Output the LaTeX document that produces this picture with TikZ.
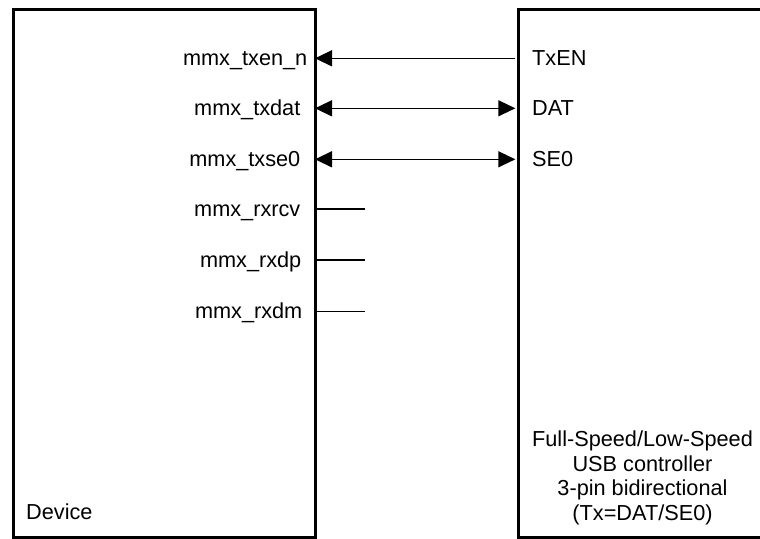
\documentclass[tikz,border=0pt]{standalone}
\usepackage{fontspec}
\setmainfont{Liberation Sans}
\usetikzlibrary{arrows.meta}
\begin{document}
\begin{tikzpicture}[x=1pt,y=-1pt,
  box/.style={draw=black,line width=3pt,fill=none,inner sep=0pt,anchor=north west},
  wire/.style={draw=black,line width=1.4pt},
  tip/.style={-{Triangle[length=17pt,width=16pt]}},
  both/.style={{Triangle[length=17pt,width=16pt]}-{Triangle[length=17pt,width=16pt]}},
  lbl/.style={font=\fontsize{21.7}{24.5}\selectfont,inner sep=0pt}]
\clip (0,0) rectangle (760,538);
% boxes
\node[box,minimum width=302.5pt,minimum height=528pt] (dev) at (11.5,7.5) {};
\node[box,minimum width=300pt,minimum height=528pt] (usb) at (516.7,7.5) {};
% port coordinates
\coordinate (d1) at (315,58.3);
\coordinate (d2) at (315,108.3);
\coordinate (d3) at (315,159.3);
\coordinate (d4) at (314,209);
\coordinate (d5) at (314,260);
\coordinate (d6) at (314,311.7);
\coordinate (s4) at (365,209);
\coordinate (s5) at (365,260);
\coordinate (s6) at (365,311.7);
\coordinate (u1) at (515.3,58.3);
\coordinate (u2) at (515.3,108.3);
\coordinate (u3) at (515.3,159.3);
% labels left
\node[lbl,anchor=base east] (l1) at (307.5,65.3) {mmx\_txen\_n};
\node[lbl,anchor=base east] (l2) at (300.5,115.3) {mmx\_txdat};
\node[lbl,anchor=base east] (l3) at (300.5,166.3) {mmx\_txse0};
\node[lbl,anchor=base east] (l4) at (300.5,216) {mmx\_rxrcv};
\node[lbl,anchor=base east] (l5) at (301.5,267) {mmx\_rxdp};
\node[lbl,anchor=base east] (l6) at (302.5,318.7) {mmx\_rxdm};
% labels right
\node[lbl,anchor=base west] (r1) at (532,65.3) {TxEN};
\node[lbl,anchor=base west] (r2) at (532,115.3) {DAT};
\node[lbl,anchor=base west] (r3) at (532,166.3) {SE0};
% box titles
\node[lbl,anchor=base west] (devt) at (26,519.3) {Device};
\node[lbl,align=center] (usbt) at (642.5,477.8) {Full-Speed/Low-Speed\\USB controller\\3-pin bidirectional\\(Tx=DAT/SE0)};
% connectors
\draw[wire,tip] (u1) -- (d1);
\draw[wire,both] (d2) -- (u2);
\draw[wire,both] (d3) -- (u3);
\draw[wire] (d4) -- (s4);
\draw[wire] (d5) -- (s5);
\draw[wire] (d6) -- (s6);
\end{tikzpicture}
\end{document}
